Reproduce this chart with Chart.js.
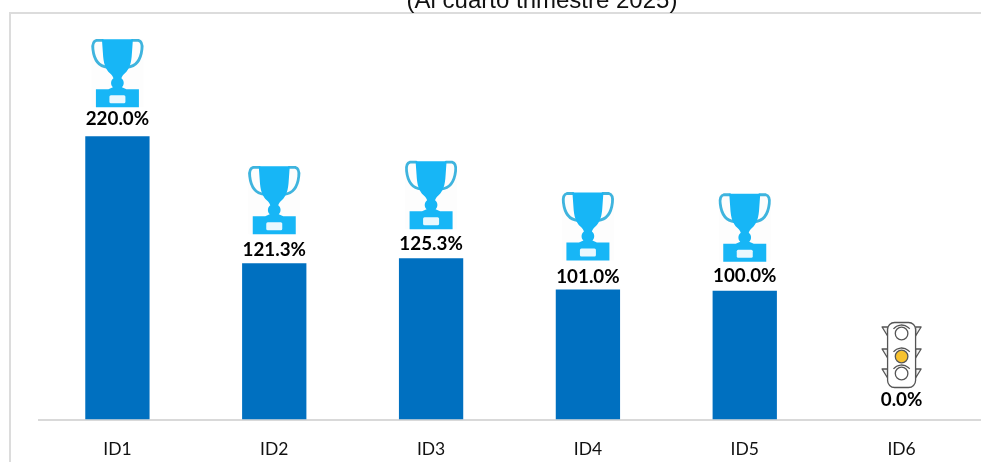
<!DOCTYPE html>
<html>
<head>
<meta charset="utf-8">
<style>html,body{margin:0;padding:0;background:#fff;overflow:hidden}canvas{display:block}</style>
<script src="https://cdn.jsdelivr.net/npm/chart.js@4"></script>
</head>
<body>
<canvas id="c" width="981" height="462"></canvas>
<script>
const categories = ['ID1','ID2','ID3','ID4','ID5','ID6'];
const seriesValues = [220.0,121.3,125.3,101.0,100.0,0.0];
const statusIcons = ['trophy','trophy','trophy','trophy','trophy','light'];
const labelOffsets = [17.5,13,14.5,12.5,14.5,19.5];
const titleText = '(Al cuarto trimestre 2025)';

function drawTrophy(ctx, cx, bottom){
  const x0 = cx - 26, y0 = bottom - 68;
  ctx.save();
  ctx.translate(x0, y0);
  ctx.fillStyle = '#fdfdfd';
  ctx.fillRect(0,0,52,68);
  // handles
  ctx.strokeStyle = '#3fb4de'; ctx.lineWidth = 2.8; ctx.lineCap = 'round';
  ctx.beginPath();
  ctx.moveTo(11,1);
  ctx.lineTo(5,1);
  ctx.bezierCurveTo(1.5,2,1,6,1.5,10);
  ctx.bezierCurveTo(2.5,19,6,27,16,28);
  ctx.moveTo(41,1);
  ctx.lineTo(47,1);
  ctx.bezierCurveTo(50.5,2,51,6,50.5,10);
  ctx.bezierCurveTo(49.5,19,46,27,36,28);
  ctx.stroke();
  ctx.fillStyle = '#17b6f6';
  // cup, stem and base
  ctx.beginPath();
  ctx.moveTo(10.5,0);
  ctx.lineTo(41.5,0);
  ctx.lineTo(40.5,14);
  ctx.bezierCurveTo(40,24,38,30,33.5,34);
  ctx.bezierCurveTo(31.5,36,30.5,37,30,39);
  ctx.bezierCurveTo(33,41,33,46,30.5,48);
  ctx.lineTo(35,50);
  ctx.lineTo(47.5,50);
  ctx.lineTo(47.5,68);
  ctx.lineTo(4.5,68);
  ctx.lineTo(4.5,50);
  ctx.lineTo(17,50);
  ctx.lineTo(21.5,48);
  ctx.bezierCurveTo(19,46,19,41,22,39);
  ctx.bezierCurveTo(21.5,37,20.5,36,18.5,34);
  ctx.bezierCurveTo(14,30,12,24,11.5,14);
  ctx.closePath();
  ctx.fill();
  ctx.fillStyle = '#e9f8fe';
  ctx.beginPath();
  ctx.roundRect(18,56,16,8,1.5);
  ctx.fill();
  ctx.restore();
}

function drawLight(ctx, cx, bottom){
  const x0 = cx - 18, y0 = bottom - 66;
  ctx.save();
  ctx.translate(x0, y0);
  ctx.strokeStyle = '#555555'; ctx.lineWidth = 1.3; ctx.lineJoin = 'round';
  [5,27,47].forEach(y => {
    ctx.fillStyle = '#f2f2f2';
    ctx.beginPath();
    ctx.moveTo(4,y); ctx.lineTo(-1.5,y); ctx.lineTo(4,y+9); ctx.closePath();
    ctx.moveTo(32,y); ctx.lineTo(37.5,y); ctx.lineTo(32,y+9); ctx.closePath();
    ctx.fill(); ctx.stroke();
  });
  ctx.fillStyle = '#ffffff';
  ctx.beginPath();
  ctx.roundRect(4,0.5,28,65,7);
  ctx.fill(); ctx.stroke();
  [11.5,34.5,51.5].forEach((y,i) => {
    ctx.beginPath();
    ctx.arc(18,y,6.3,0,Math.PI*2);
    ctx.fillStyle = i===1 ? '#f7c22f' : '#ffffff';
    ctx.fill();
    ctx.strokeStyle = '#555555'; ctx.stroke();
    ctx.beginPath();
    ctx.arc(18,y+2,10.5,Math.PI*1.22,Math.PI*1.78);
    ctx.stroke();
  });
  ctx.restore();
}

const framePlugin = {
  id:'frame',
  beforeDraw(chart){
    const ctx = chart.ctx;
    ctx.save();
    ctx.fillStyle = '#ffffff';
    ctx.fillRect(0,0,981,462);
    ctx.fillStyle = '#dcdcdc';
    ctx.fillRect(9,12,972,2);
    ctx.fillRect(9,12,2,450);
    ctx.restore();
  },
  afterDraw(chart){
    const ctx = chart.ctx;
    ctx.save();
    ctx.font = '24px "Liberation Sans"';
    ctx.fillStyle = '#111111';
    ctx.textAlign = 'center';
    ctx.textBaseline = 'alphabetic';
    ctx.fillText(titleText, 542, 8);
    ctx.restore();
  }
};

const marksPlugin = {
  id:'marks',
  afterDatasetsDraw(chart){
    const ctx = chart.ctx;
    const meta = chart.getDatasetMeta(0);
    meta.data.forEach((bar,i) => {
      const cx = bar.x, top = bar.y;
      ctx.save();
      ctx.font = 'bold 18.8px Lato';
      ctx.fillStyle = '#000000';
      ctx.textAlign = 'center';
      ctx.textBaseline = 'middle';
      ctx.fillText(seriesValues[i].toFixed(1)+'%', cx, top - labelOffsets[i]);
      ctx.restore();
      if (statusIcons[i] === 'trophy') drawTrophy(ctx, cx, top - 29);
      else drawLight(ctx, cx, top - 31.5);
    });
  }
};

new Chart(document.getElementById('c'), {
  type:'bar',
  data:{
    labels:categories,
    datasets:[{data:seriesValues, backgroundColor:'#0070c0', borderWidth:0, barPercentage:0.41, categoryPercentage:1}]
  },
  options:{
    responsive:false,
    animation:false,
    devicePixelRatio:1,
    layout:{padding:{left:39,right:1,top:14,bottom:0}},
    plugins:{legend:{display:false},title:{display:false},tooltip:{enabled:false}},
    scales:{
      x:{
        grid:{display:false,drawTicks:false},
        border:{display:true,color:'#d9d9d9',width:2},
        ticks:{color:'#111111',font:{family:'Lato',size:17.5},padding:19,maxRotation:0},
        afterFit(s){s.height = 42.5;}
      },
      y:{display:false,min:0,max:315}
    }
  },
  plugins:[framePlugin,marksPlugin]
});
</script>
</body>
</html>
